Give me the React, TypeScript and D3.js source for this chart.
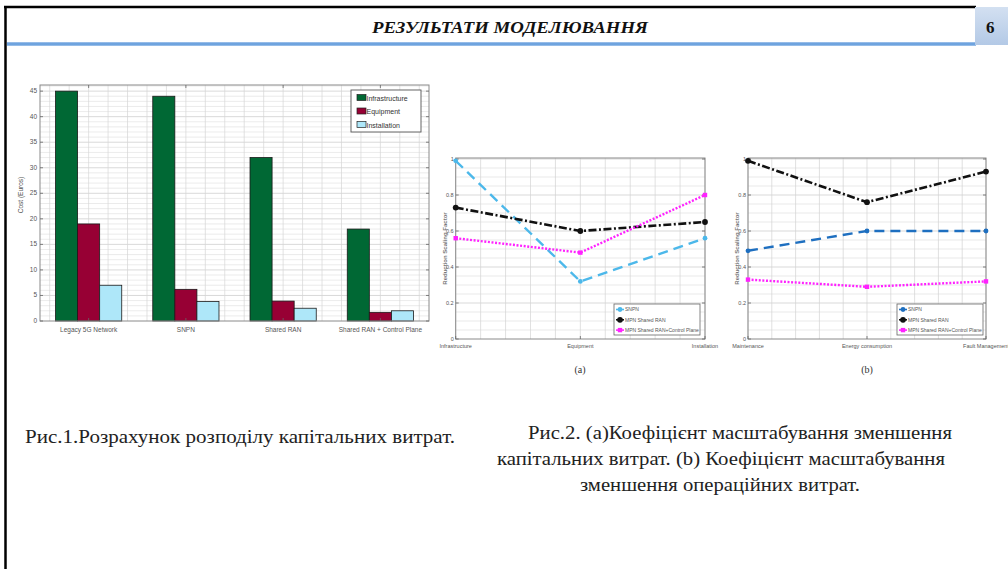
import React from 'react';
import * as d3 from 'd3';

// ---------- data ----------
const barCategories = ['Legacy 5G Network', 'SNPN', 'Shared RAN', 'Shared RAN + Control Plane'];
const barSeriesNames = ['Infrastructure', 'Equipment', 'Installation'];
const infrastructureCost = [45, 44, 32, 18];
const equipmentCost = [19, 6.2, 3.9, 1.7];
const installationCost = [7, 3.8, 2.5, 2];
const costTicks = [0, 5, 10, 15, 20, 25, 30, 35, 40, 45];

const lineSeriesNames = ['SNPN', 'MPN Shared RAN', 'MPN Shared RAN+Control Plane'];
const capexCategories = ['Infrastructure', 'Equipment', 'Installation'];
const capexSNPN = [0.99, 0.32, 0.56];
const capexSharedRAN = [0.73, 0.6, 0.65];
const capexSharedRANCP = [0.56, 0.48, 0.8];
const opexCategories = ['Maintenance', 'Energy consumption', 'Fault Management'];
const opexSNPN = [0.49, 0.6, 0.6];
const opexSharedRAN = [0.99, 0.76, 0.93];
const opexSharedRANCP = [0.33, 0.29, 0.32];
const factorTicks = [0, 0.2, 0.4, 0.6, 0.8, 1];
const factorTickLabels = ['0', '0.2', '0.4', '0.6', '0.8', '1'];

const sans = "'Liberation Sans', Arial, sans-serif";
const serif = "'Liberation Serif', 'Times New Roman', serif";
const tickColor = '#555';

function BarChart() {
  const left = 40, right = 429, top = 85, bottom = 321;
  const x = d3.scaleBand<string>().domain(barCategories).range([left, right]);
  const y = d3.scaleLinear().domain([0, 46.2]).range([bottom, top]);
  const bw = x.bandwidth();
  const barW = bw * 0.227;
  const series = [infrastructureCost, equipmentCost, installationCost];
  const colors = ['#006834', '#970034', '#aee7f9'];
  const centers = barCategories.map((c) => (x(c) as number) + bw / 2);
  const step = bw * 0.2;
  const vgrid: number[] = [];
  for (let v = centers[0]; v > left; v -= step) vgrid.push(v);
  for (let v = centers[0] + step; v < right; v += step) vgrid.push(v);
  const minorY = d3.range(1, 47, 1);
  return (
    <g>
      <rect x={left} y={top} width={right - left} height={bottom - top} fill="#fff" />
      {minorY.map((v) => (
        <line key={'hy' + v} x1={left} x2={right} y1={y(v)} y2={y(v)} stroke={v % 5 === 0 ? '#c9c9c9' : '#e2e2e2'} strokeWidth={0.7} />
      ))}
      {vgrid.map((v, i) => (
        <line key={'vx' + i} x1={v} x2={v} y1={top} y2={bottom} stroke="#d6d6d6" strokeWidth={0.7} />
      ))}
      {series.map((vals, si) =>
        vals.map((v, ci) => (
          <rect
            key={si + '-' + ci}
            x={centers[ci] + (si - 1.5) * barW}
            y={y(v)}
            width={barW}
            height={bottom - y(v)}
            fill={colors[si]}
            stroke="#1a1a1a"
            strokeWidth={0.8}
          />
        ))
      )}
      <rect x={left} y={top} width={right - left} height={bottom - top} fill="none" stroke="#8a8a8a" strokeWidth={1} />
      {costTicks.map((t) => (
        <g key={'t' + t}>
          <line x1={left} x2={left + 3} y1={y(t)} y2={y(t)} stroke="#666" strokeWidth={0.8} />
          <line x1={right} x2={right - 3} y1={y(t)} y2={y(t)} stroke="#666" strokeWidth={0.8} />
          <text x={left - 3} y={y(t) + 2} fontSize={6.5} fontFamily={sans} fill={tickColor} textAnchor="end">{t}</text>
        </g>
      ))}
      {centers.map((c, i) => (
        <g key={'c' + i}>
          <line x1={c} x2={c} y1={bottom} y2={bottom - 3} stroke="#666" strokeWidth={0.8} />
          <line x1={c} x2={c} y1={top} y2={top + 3} stroke="#666" strokeWidth={0.8} />
          <text x={c} y={bottom + 11} fontSize={6.5} fontFamily={sans} fill={tickColor} textAnchor="middle">{barCategories[i]}</text>
        </g>
      ))}
      <text transform={`translate(${23},${(top + bottom) / 2 - 8}) rotate(-90)`} fontSize={6.5} fontFamily={sans} fill={tickColor} textAnchor="middle">Cost (Euros)</text>
      <g>
        <rect x={351} y={90} width={70} height={42} fill="#fff" stroke="#555" strokeWidth={0.9} />
        {barSeriesNames.map((n, i) => (
          <g key={n}>
            <rect x={357} y={94.5 + i * 13.5} width={9} height={6} fill={colors[i]} stroke="#222" strokeWidth={0.7} />
            <text x={366.5} y={100.5 + i * 13.5} fontSize={7} fontFamily={sans} fill="#333">{n}</text>
          </g>
        ))}
      </g>
    </g>
  );
}

type LineChartProps = {
  left: number;
  right: number;
  cats: string[];
  values: number[][];
  colors: string[];
  legendX: number;
};

function Marker({ kind, cx, cy, color }: { kind: number; cx: number; cy: number; color: string }) {
  if (kind === 2) return <rect x={cx - 2.2} y={cy - 2.2} width={4.4} height={4.4} fill={color} />;
  if (kind === 1) return <circle cx={cx} cy={cy} r={2.9} fill={color} />;
  return <circle cx={cx} cy={cy} r={2.4} fill={color} />;
}

function LineChart({ left, right, cats, values, colors, legendX }: LineChartProps) {
  const top = 158, bottom = 339;
  const x = d3.scaleLinear().domain([0, cats.length - 1]).range([left, right]);
  const y = d3.scaleLinear().domain([0, 1]).range([bottom, top + 1]);
  const line = d3.line<number>().x((_, i) => x(i)).y((d) => y(d));
  const dashes = ['10,6', '8,2.5,2,2.5', '2,1.6'];
  const widths = [2.4, 2.6, 2.4];
  const vgrid = d3.range(0, 2.0001, 0.2);
  const hgrid = d3.range(0.05, 1.0001, 0.05);
  const mid = (top + bottom) / 2;
  return (
    <g>
      <rect x={left} y={top} width={right - left} height={bottom - top} fill="#fff" />
      {hgrid.map((v, i) => (
        <line key={'h' + i} x1={left} x2={right} y1={y(v)} y2={y(v)} stroke={i % 4 === 3 ? '#c8c8c8' : '#e0e0e0'} strokeWidth={0.7} />
      ))}
      {vgrid.map((v, i) => (
        <line key={'v' + i} x1={x(v)} x2={x(v)} y1={top} y2={bottom} stroke="#d2d2d2" strokeWidth={0.7} />
      ))}
      <rect x={left} y={top} width={right - left} height={bottom - top} fill="none" stroke="#8a8a8a" strokeWidth={1} />
      {factorTicks.map((t, i) => (
        <g key={'t' + i}>
          <line x1={left} x2={left + 3} y1={y(t)} y2={y(t)} stroke="#666" strokeWidth={0.8} />
          <line x1={right} x2={right - 3} y1={y(t)} y2={y(t)} stroke="#666" strokeWidth={0.8} />
          <text x={left - 2} y={y(t) + 2} fontSize={5.5} fontFamily={sans} fill={tickColor} textAnchor="end">{factorTickLabels[i]}</text>
        </g>
      ))}
      {cats.map((c, i) => (
        <g key={c}>
          <line x1={x(i)} x2={x(i)} y1={bottom} y2={bottom - 3} stroke="#666" strokeWidth={0.8} />
          <text x={x(i)} y={bottom + 9} fontSize={5.5} fontFamily={sans} fill={tickColor} textAnchor="middle">{c}</text>
        </g>
      ))}
      <text transform={`translate(${left - 9},${mid}) rotate(-90)`} fontSize={6} fontFamily={sans} fontWeight="bold" fill="#777" textAnchor="middle">Reduction Scaling Factor</text>
      {values.map((vals, si) => (
        <g key={'s' + si}>
          <path d={line(vals) || ''} fill="none" stroke={colors[si]} strokeWidth={widths[si]} strokeDasharray={dashes[si]} />
          {vals.map((v, i) => (
            <Marker key={i} kind={si} cx={x(i)} cy={y(v)} color={colors[si]} />
          ))}
        </g>
      ))}
      <g>
        <rect x={legendX} y={304} width={86} height={31} fill="#fff" stroke="#666" strokeWidth={0.8} />
        {lineSeriesNames.map((n, i) => (
          <g key={n}>
            <line x1={legendX + 2} x2={legendX + 10} y1={309.5 + i * 10.3} y2={309.5 + i * 10.3} stroke={colors[i]} strokeWidth={1.6} />
            <Marker kind={i} cx={legendX + 6} cy={309.5 + i * 10.3} color={colors[i]} />
            <text x={legendX + 11} y={311.3 + i * 10.3} fontSize={5} fontFamily={sans} fill="#555">{n}</text>
          </g>
        ))}
      </g>
    </g>
  );
}

export default function App() {
  const capexColors = ['#4cb8ea', '#111111', '#ff22ff'];
  const opexColors = ['#1e6fc0', '#111111', '#ff22ff'];
  return (
    <svg width={1008} height={569} style={{ position: 'absolute', left: 0, top: 0 }} xmlns="http://www.w3.org/2000/svg">
      <defs>
        <linearGradient id="numbox" x1="0" x2="0" y1="0" y2="1">
          <stop offset="0" stopColor="#d3e0f1" />
          <stop offset="1" stopColor="#b3c9e6" />
        </linearGradient>
        <linearGradient id="band" x1="0" x2="0" y1="0" y2="1">
          <stop offset="0" stopColor="#a9c8ec" />
          <stop offset="0.5" stopColor="#5b97da" />
          <stop offset="1" stopColor="#a9c8ec" />
        </linearGradient>
      </defs>
      <rect x={0} y={0} width={1008} height={569} fill="#fff" />
      {/* slide frame */}
      <line x1={4} x2={976} y1={7} y2={7} stroke="#000" strokeWidth={2.5} />
      <line x1={5.5} x2={5.5} y1={6} y2={569} stroke="#000" strokeWidth={2.5} />
      <rect x={7} y={42} width={969} height={4} fill="url(#band)" />
      <rect x={975} y={7} width={33} height={38} fill="url(#numbox)" />
      <text x={986} y={33} fontSize={17} fontFamily={serif} fontWeight="bold" fill="#111">6</text>
      <text x={510} y={33} fontSize={17} fontFamily={serif} fontWeight="bold" fontStyle="italic" fill="#111" textAnchor="middle" textLength={276} lengthAdjust="spacingAndGlyphs">РЕЗУЛЬТАТИ МОДЕЛЮВАННЯ</text>

      <BarChart />
      <LineChart left={455.7} right={705} cats={capexCategories} values={[capexSNPN, capexSharedRAN, capexSharedRANCP]} colors={capexColors} legendX={614} />
      <LineChart left={748} right={986} cats={opexCategories} values={[opexSNPN, opexSharedRAN, opexSharedRANCP]} colors={opexColors} legendX={897} />
      <text x={580} y={373} fontSize={10} fontFamily={serif} fill="#333" textAnchor="middle">(a)</text>
      <text x={867} y={373} fontSize={10} fontFamily={serif} fill="#333" textAnchor="middle">(b)</text>

      <text x={25} y={443} fontSize={19.5} fontFamily={serif} fill="#222" textLength={430} lengthAdjust="spacingAndGlyphs">Рис.1.Розрахунок розподілу капітальних витрат.</text>
      <text x={528} y={439} fontSize={19.5} fontFamily={serif} fill="#222" textLength={424} lengthAdjust="spacingAndGlyphs">Рис.2. (a)Коефіцієнт масштабування зменшення</text>
      <text x={497} y={465} fontSize={19.5} fontFamily={serif} fill="#222" textLength={448} lengthAdjust="spacingAndGlyphs">капітальних витрат. (b) Коефіцієнт масштабування</text>
      <text x={580} y={491} fontSize={19.5} fontFamily={serif} fill="#222" textLength={280} lengthAdjust="spacingAndGlyphs">зменшення операційних витрат.</text>
    </svg>
  );
}
